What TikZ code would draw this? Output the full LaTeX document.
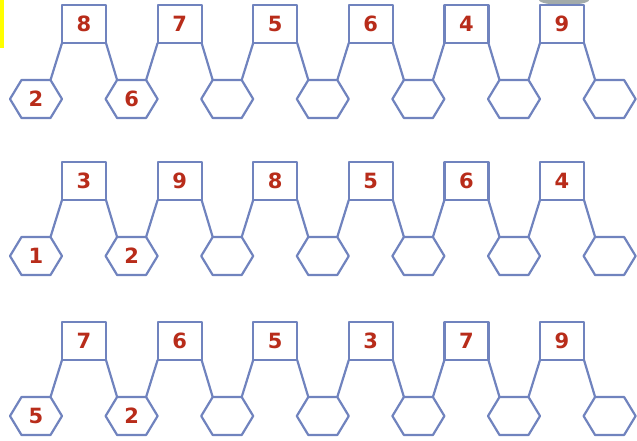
\documentclass[tikz,border=0pt]{standalone}
\usepackage{fontspec}
\setmainfont{DejaVu Sans}
\usetikzlibrary{calc}
\definecolor{edgeblue}{HTML}{7083BE}
\definecolor{digitred}{HTML}{B82C1A}
\definecolor{markyellow}{HTML}{FFFF00}
\definecolor{blobgray}{HTML}{A3ABAA}
\begin{document}
\begin{tikzpicture}[x=1pt,y=-1pt,line join=round,
  sq/.style={draw=edgeblue,line width=2.2pt,minimum width=44pt,minimum height=38pt,
    inner sep=0pt,outer sep=0pt,fill=white,text=digitred,
    font=\bfseries\fontsize{21}{21}\selectfont},
  hexlbl/.style={inner sep=0pt,outer sep=0pt,text=digitred,
    font=\bfseries\fontsize{21}{21}\selectfont},
  link/.style={draw=edgeblue,line width=2.2pt}]
\useasboundingbox (0,0) rectangle (637,440);
\fill[markyellow] (0,0) rectangle (4,48);
\fill[blobgray] (564,0) ellipse (25 and 5);
\foreach \r/\top/\a/\b/\c/\d/\e/\f/\p/\q in
  {1/5/8/7/5/6/4/9/2/6, 2/162/3/9/8/5/6/4/1/2, 3/322/7/6/5/3/7/9/5/2}{
  \pgfmathsetmacro{\sy}{\top+19}
  \pgfmathsetmacro{\hy}{\top+94}
  % hexagons
  \foreach \j/\t in {0/\p,1/\q,2/{},3/{},4/{},5/{},6/{}}{
    \pgfmathsetmacro{\hx}{36+95.6*\j}
    \node[hexlbl] (h\r\j) at (\hx,\hy) {\t};
    \draw[link] (h\r\j.center) ++(-26,0) -- ++(11.5,-19) -- ++(29,0)
      -- ++(11.5,19) -- ++(-11.5,19) -- ++(-29,0) -- cycle;
    \coordinate (h\r\j tl) at ($(h\r\j.center)+(-14.5,-19)$);
    \coordinate (h\r\j tr) at ($(h\r\j.center)+(14.5,-19)$);
  }
  % squares
  \foreach \i/\t in {0/\a,1/\b,2/\c,3/\d,4/\e,5/\f}{
    \pgfmathsetmacro{\sx}{84+95.6*\i}
    \node[sq] (s\r\i) at (\sx,\sy) {\t};
  }
  % connectors
  \foreach \i [evaluate=\i as \n using int(\i+1)] in {0,...,5}{
    \draw[link] (s\r\i.south west) -- (h\r\i tr);
    \draw[link] (s\r\i.south east) -- (h\r\n tl);
  }
}
\end{tikzpicture}
\end{document}
